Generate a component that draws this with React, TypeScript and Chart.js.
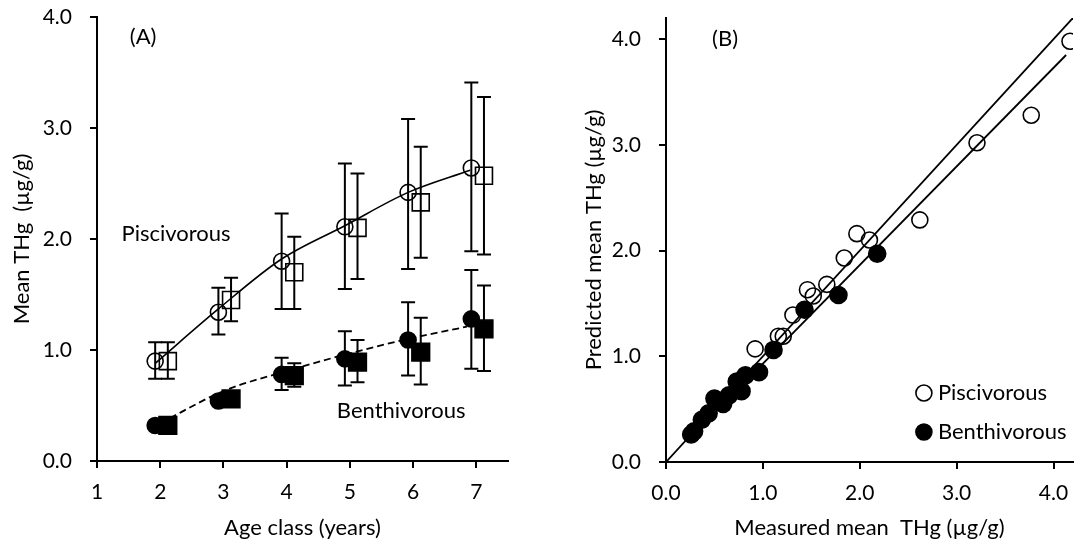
import React, { useEffect, useRef } from "react";
import { Chart, registerables } from "chart.js";

Chart.register(...registerables);

const FONT_FAMILY = "Lato, 'Open Sans', 'DejaVu Sans', sans-serif";
const TEXT_SIZE = 22;
const TICK_SIZE = 21;

// ---- Panel A: mean THg by age class ----
const ageClasses = [2, 3, 4, 5, 6, 7];

// Piscivorous, first group (open circles)
const piscCircleMean = [0.9, 1.34, 1.8, 2.11, 2.42, 2.64];
const piscCircleHigh = [1.07, 1.56, 2.23, 2.68, 3.08, 3.41];
const piscCircleLow = [0.74, 1.14, 1.37, 1.55, 1.73, 1.89];

// Piscivorous, second group (open squares)
const piscSquareMean = [0.9, 1.45, 1.7, 2.1, 2.33, 2.57];
const piscSquareHigh = [1.07, 1.65, 2.02, 2.59, 2.83, 3.28];
const piscSquareLow = [0.74, 1.26, 1.37, 1.64, 1.83, 1.86];

// Benthivorous, first group (filled circles)
const benthCircleMean = [0.32, 0.54, 0.78, 0.92, 1.09, 1.28];
const benthCircleHigh = [null, null, 0.93, 1.17, 1.43, 1.72];
const benthCircleLow = [null, null, 0.64, 0.68, 0.77, 0.83];

// Benthivorous, second group (filled squares)
const benthSquareMean = [0.32, 0.56, 0.77, 0.89, 0.98, 1.19];
const benthSquareHigh = [null, null, 0.88, 1.09, 1.29, 1.58];
const benthSquareLow = [null, null, 0.67, 0.71, 0.69, 0.81];

// Fitted curves
const piscFitX = [1.92, 2.92, 3.92, 4.92, 5.92, 6.9];
const piscFitY = [0.88, 1.37, 1.82, 2.12, 2.42, 2.62];
const benthFitX = [2.0, 3.0, 4.0, 5.0, 6.0, 6.85];
const benthFitY = [0.34, 0.63, 0.81, 0.97, 1.11, 1.21];

const ageTicks = [1, 2, 3, 4, 5, 6, 7];
const thgTicks = [0, 1, 2, 3, 4];

// ---- Panel B: predicted vs measured ----
const piscMeasured = [4.17, 3.77, 3.21, 2.62, 1.97, 2.1, 1.84, 1.46, 1.52, 1.66, 1.31, 1.16, 1.21, 0.92];
const piscPredicted = [3.98, 3.28, 3.02, 2.29, 2.16, 2.1, 1.93, 1.63, 1.57, 1.68, 1.39, 1.19, 1.19, 1.07];

const benthMeasured = [2.18, 1.78, 1.43, 1.11, 0.96, 0.82, 0.73, 0.78, 0.65, 0.5, 0.59, 0.44, 0.37, 0.29, 0.26];
const benthPredicted = [1.97, 1.58, 1.44, 1.06, 0.85, 0.82, 0.76, 0.67, 0.63, 0.6, 0.55, 0.46, 0.4, 0.29, 0.26];

const identityX = [0, 4.2];
const identityY = [0, 4.2];
const regressionX = [0.25, 4.13];
const regressionY = [0.23, 3.85];

// Marker horizontal offsets so the two groups sit side by side
const CIRCLE_SHIFT = -0.08;
const SQUARE_SHIFT = 0.12;

const toPoints = (xs: number[], ys: number[]) => xs.map((x, i) => ({ x, y: ys[i] }));

type Bars = { x: number[]; lo: (number | null)[]; hi: (number | null)[] };

const errorBarPlugin = {
  id: "errorBars",
  beforeDatasetsDraw(chart: any, _args: any, opts: any) {
    const bars: Bars[] = opts && opts.bars;
    if (!bars) return;
    const { ctx } = chart;
    const xs = chart.scales.x;
    const ys = chart.scales.y;
    const cap = 7;
    ctx.save();
    ctx.strokeStyle = "#000";
    ctx.lineWidth = 2;
    for (const b of bars) {
      b.x.forEach((xv, i) => {
        const lo = b.lo[i];
        const hi = b.hi[i];
        if (lo == null || hi == null) return;
        const px = xs.getPixelForValue(xv);
        const pt = ys.getPixelForValue(hi);
        const pb = ys.getPixelForValue(lo);
        ctx.beginPath();
        ctx.moveTo(px, pt);
        ctx.lineTo(px, pb);
        ctx.moveTo(px - cap, pt);
        ctx.lineTo(px + cap, pt);
        ctx.moveTo(px - cap, pb);
        ctx.lineTo(px + cap, pb);
        ctx.stroke();
      });
    }
    ctx.restore();
  },
};

type Note = { text: string; x: number; y: number; align?: CanvasTextAlign };
type LegendRow = { text: string; filled: boolean };

const annotationPlugin = {
  id: "notes",
  afterDatasetsDraw(chart: any, _args: any, opts: any) {
    const { ctx, chartArea } = chart;
    const xs = chart.scales.x;
    const ys = chart.scales.y;
    ctx.save();
    ctx.fillStyle = "#000";
    ctx.font = `${TEXT_SIZE}px ${FONT_FAMILY}`;
    ctx.textBaseline = "middle";
    const notes: Note[] = (opts && opts.notes) || [];
    for (const n of notes) {
      ctx.textAlign = n.align || "center";
      ctx.fillText(n.text, xs.getPixelForValue(n.x), ys.getPixelForValue(n.y));
    }
    const legend: LegendRow[] = (opts && opts.legend) || [];
    legend.forEach((row, i) => {
      const mx = chartArea.right - 149;
      const my = chartArea.bottom - 69 + i * 39;
      ctx.beginPath();
      ctx.arc(mx, my, 8, 0, Math.PI * 2);
      ctx.lineWidth = 1.6;
      ctx.strokeStyle = "#000";
      if (row.filled) {
        ctx.fillStyle = "#000";
        ctx.fill();
      }
      ctx.stroke();
      ctx.fillStyle = "#000";
      ctx.textAlign = "left";
      ctx.fillText(row.text, mx + 14, my);
    });
    ctx.restore();
  },
};

const tickFont = { family: FONT_FAMILY, size: TICK_SIZE };
const titleFont = { family: FONT_FAMILY, size: TEXT_SIZE };

function axis(opts: {
  min: number;
  max: number;
  ticks: number[];
  fmt: (v: number) => string;
  title: string;
  horizontal: boolean;
  size: number;
  titlePad: number;
}) {
  return {
    type: "linear",
    min: opts.min,
    max: opts.max,
    afterBuildTicks: (s: any) => {
      s.ticks = opts.ticks.map((v) => ({ value: v }));
    },
    ticks: {
      font: tickFont,
      color: "#000",
      padding: opts.horizontal ? 12 : 18,
      autoSkip: false,
      maxRotation: 0,
      callback: (v: any) => opts.fmt(Number(v)),
    },
    grid: {
      display: true,
      drawOnChartArea: false,
      drawTicks: true,
      tickLength: 7,
      color: "#000",
      lineWidth: 2,
    },
    border: { display: true, color: "#000", width: 2 },
    title: {
      display: true,
      text: opts.title,
      font: titleFont,
      color: "#000",
      padding: opts.horizontal ? { top: 0, bottom: opts.titlePad } : { top: opts.titlePad, bottom: 0 },
    },
    afterFit: (s: any) => {
      if (opts.horizontal) {
        s.height = opts.size;
        s.paddingLeft = 0;
        s.paddingRight = 0;
      } else {
        s.width = opts.size;
        s.paddingTop = 0;
        s.paddingBottom = 0;
      }
    },
  };
}

function buildAgeChart(canvas: HTMLCanvasElement) {
  const shift = (d: number) => ageClasses.map((a) => a + d);
  const circleX = shift(CIRCLE_SHIFT);
  const squareX = shift(SQUARE_SHIFT);
  const marker = {
    showLine: false,
    borderColor: "#000",
    borderWidth: 1.6,
    pointRadius: 8,
    pointHoverRadius: 8,
  };
  return new Chart(canvas, {
    type: "scatter",
    data: {
      datasets: [
        { ...marker, label: "Benthivorous A", data: toPoints(circleX, benthCircleMean), pointStyle: "circle", backgroundColor: "#000", order: 0 },
        { ...marker, label: "Benthivorous B", data: toPoints(squareX, benthSquareMean), pointStyle: "rect", pointRadius: 12.5, pointHoverRadius: 12.5, backgroundColor: "#000", order: 1 },
        { ...marker, label: "Piscivorous A", data: toPoints(circleX, piscCircleMean), pointStyle: "circle", backgroundColor: "rgba(0,0,0,0)", order: 2 },
        { ...marker, label: "Piscivorous B", data: toPoints(squareX, piscSquareMean), pointStyle: "rect", pointRadius: 12, pointHoverRadius: 12, backgroundColor: "rgba(0,0,0,0)", order: 3 },
        {
          label: "Piscivorous fit",
          data: toPoints(piscFitX, piscFitY),
          showLine: true,
          pointRadius: 0,
          borderColor: "#000",
          borderWidth: 1.6,
          cubicInterpolationMode: "monotone",
          order: 4,
        },
        {
          label: "Benthivorous fit",
          data: toPoints(benthFitX, benthFitY),
          showLine: true,
          pointRadius: 0,
          borderColor: "#000",
          borderWidth: 1.8,
          borderDash: [7, 4],
          cubicInterpolationMode: "monotone",
          order: 5,
        },
      ],
    } as any,
    options: {
      responsive: false,
      animation: false,
      devicePixelRatio: 1,
      layout: { padding: { top: 17, right: 32, bottom: 0, left: 0 } },
      plugins: {
        legend: { display: false },
        tooltip: { enabled: false },
        errorBars: {
          bars: [
            { x: circleX, lo: piscCircleLow, hi: piscCircleHigh },
            { x: squareX, lo: piscSquareLow, hi: piscSquareHigh },
            { x: circleX, lo: benthCircleLow, hi: benthCircleHigh },
            { x: squareX, lo: benthSquareLow, hi: benthSquareHigh },
          ],
        },
        notes: {
          notes: [
            { text: "(A)", x: 1.73, y: 3.82 },
            { text: "Piscivorous", x: 2.25, y: 2.05 },
            { text: "Benthivorous", x: 5.81, y: 0.45 },
          ],
        },
      } as any,
      scales: {
        x: axis({ min: 1, max: 7.5, ticks: ageTicks, fmt: (v) => String(v), title: "Age class (years)", horizontal: true, size: 86, titlePad: 6 }),
        y: axis({ min: 0, max: 4, ticks: thgTicks, fmt: (v) => v.toFixed(1), title: "Mean THg  (µg/g)", horizontal: false, size: 97, titlePad: 9 }),
      } as any,
    },
    plugins: [errorBarPlugin, annotationPlugin],
  });
}

function buildPredictionChart(canvas: HTMLCanvasElement) {
  const marker = {
    showLine: false,
    borderColor: "#000",
    borderWidth: 1.6,
    pointRadius: 8,
    pointHoverRadius: 8,
    pointStyle: "circle",
  };
  const line = {
    showLine: true,
    pointRadius: 0,
    borderColor: "#000",
    borderWidth: 1.8,
  };
  return new Chart(canvas, {
    type: "scatter",
    data: {
      datasets: [
        { ...marker, label: "Benthivorous", data: toPoints(benthMeasured, benthPredicted), backgroundColor: "#000", pointRadius: 8.5, order: 0 },
        { ...marker, label: "Piscivorous", data: toPoints(piscMeasured, piscPredicted), backgroundColor: "rgba(0,0,0,0)", order: 1 },
        { ...line, label: "1:1", data: toPoints(identityX, identityY), order: 2 },
        { ...line, label: "Regression", data: toPoints(regressionX, regressionY), order: 3 },
      ],
    } as any,
    options: {
      responsive: false,
      animation: false,
      devicePixelRatio: 1,
      layout: { padding: { top: 18, right: 4, bottom: 0, left: 0 } },
      plugins: {
        legend: { display: false },
        tooltip: { enabled: false },
        notes: {
          notes: [{ text: "(B)", x: 0.61, y: 4.0 }],
          legend: [
            { text: "Piscivorous", filled: false },
            { text: "Benthivorous", filled: true },
          ],
        },
      } as any,
      scales: {
        x: axis({ min: 0, max: 4.2, ticks: thgTicks, fmt: (v) => v.toFixed(1), title: "Measured mean  THg (µg/g)", horizontal: true, size: 85, titlePad: 6 }),
        y: axis({ min: 0, max: 4.2, ticks: thgTicks, fmt: (v) => v.toFixed(1), title: "Predicted mean THg (µg/g)", horizontal: false, size: 126, titlePad: 41 }),
      } as any,
    },
    plugins: [annotationPlugin],
  });
}

export default function App() {
  const leftRef = useRef<HTMLCanvasElement>(null);
  const rightRef = useRef<HTMLCanvasElement>(null);

  useEffect(() => {
    if (!leftRef.current || !rightRef.current) return;
    const a = buildAgeChart(leftRef.current);
    const b = buildPredictionChart(rightRef.current);
    return () => {
      a.destroy();
      b.destroy();
    };
  }, []);

  return (
    <div style={{ position: "fixed", left: 0, top: 0, width: 1083, height: 547, background: "#fff" }}>
      <canvas ref={leftRef} width={540} height={547} style={{ position: "absolute", left: 0, top: 0, width: 540, height: 547 }} />
      <canvas ref={rightRef} width={543} height={547} style={{ position: "absolute", left: 540, top: 0, width: 543, height: 547 }} />
    </div>
  );
}
